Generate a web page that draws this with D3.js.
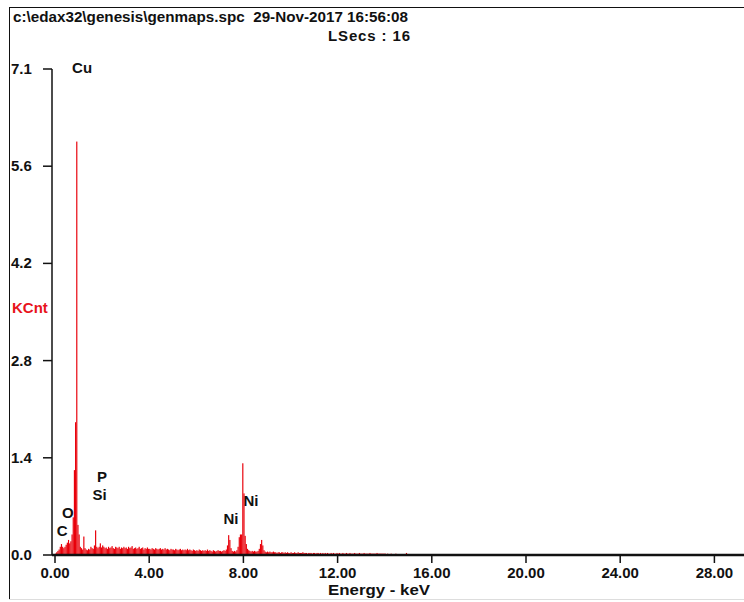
<!DOCTYPE html>
<html>
<head>
<meta charset="utf-8">
<script src="https://cdn.jsdelivr.net/npm/d3@7"></script>
<style>
  html, body { margin: 0; padding: 0; background: #fff; }
  svg { display: block; }
  text { font-family: "Liberation Sans", Arial, sans-serif; font-weight: bold; white-space: pre; }
</style>
</head>
<body>
<svg id="chart" width="744" height="602"></svg>
<script>
// Spectrum header
const fileLine = "c:\\edax32\\genesis\\genmaps.spc  29-Nov-2017 16:56:08";
const timeLine = "LSecs : 16";

// Energy channels: 0.05 keV wide, starting at 0 keV
const channelWidth = 0.05;
// Counts per channel (KCnt), one row per keV
const counts = [
  0.02,0.04,0.06,0.08,0.12,0.16,0.12,0.10,0.12,0.15,0.18,0.22,0.17,0.20,0.30,0.55,1.24,1.94,6.04,0.44,
  0.30,0.12,0.10,0.08,0.27,0.10,0.08,0.07,0.09,0.08,0.12,0.10,0.09,0.14,0.36,0.12,0.10,0.12,0.17,0.11,
  0.14,0.12,0.10,0.11,0.09,0.12,0.10,0.11,0.13,0.10,0.09,0.12,0.11,0.10,0.12,0.09,0.11,0.10,0.12,0.10,
  0.11,0.09,0.12,0.10,0.11,0.13,0.09,0.10,0.11,0.09,0.10,0.12,0.09,0.10,0.11,0.08,0.10,0.09,0.11,0.09,
  0.09,0.08,0.10,0.09,0.08,0.10,0.09,0.08,0.09,0.10,0.08,0.09,0.08,0.10,0.08,0.09,0.08,0.07,0.09,0.08,
  0.08,0.07,0.09,0.08,0.07,0.08,0.09,0.07,0.08,0.07,0.08,0.07,0.09,0.07,0.08,0.07,0.06,0.08,0.07,0.06,
  0.07,0.06,0.08,0.07,0.06,0.07,0.06,0.07,0.06,0.08,0.06,0.07,0.06,0.05,0.07,0.06,0.05,0.06,0.07,0.06,
  0.06,0.05,0.06,0.07,0.06,0.08,0.14,0.29,0.22,0.10,0.06,0.05,0.06,0.05,0.07,0.12,0.26,0.30,0.30,1.34,
  0.90,0.28,0.16,0.09,0.07,0.06,0.05,0.06,0.05,0.06,0.05,0.05,0.06,0.09,0.16,0.22,0.14,0.07,0.05,0.04,
  0.05,0.04,0.05,0.04,0.04,0.05,0.04,0.04,0.03,0.04,0.04,0.03,0.04,0.04,0.03,0.04,0.03,0.04,0.03,0.03,
  0.04,0.03,0.03,0.04,0.03,0.03,0.04,0.03,0.03,0.03,0.04,0.03,0.03,0.03,0.02,0.03,0.03,0.03,0.02,0.03,
  0.03,0.02,0.03,0.03,0.02,0.03,0.02,0.03,0.02,0.03,0.02,0.03,0.02,0.02,0.03,0.02,0.03,0.02,0.02,0.03,
  0.02,0.03,0.02,0.02,0.03,0.02,0.02,0.03,0.02,0.02,0.03,0.02,0.02,0.02,0.03,0.02,0.02,0.02,0.03,0.02,
  0.02,0.02,0.03,0.02,0.02,0.02,0.02,0.03,0.02,0.02,0.02,0.02,0.02,0.03,0.02,0.02,0.02,0.02,0.02,0.02,
  0.02,0.01,0.02,0.01,0.01,0.02,0.01,0.01,0.01,0.02,0.01,0.01,0.01,0.01,0.01,0.01,0.01,0.01,0.03,0.01
];

// Full scale and axis ticks
const fullScale = 7.1;
const yTickValues = [0, 1.42, 2.84, 4.26, 5.68, 7.1];
const yTickLabels = ["0.0", "1.4", "2.8", "4.2", "5.6", "7.1"];
const xTickValues = [0, 4, 8, 12, 16, 20, 24, 28];
const xTickLabels = ["0.00", "4.00", "8.00", "12.00", "16.00", "20.00", "24.00", "28.00"];
const xMax = 29.3;

// Element identification labels: name, energy (keV), label level (KCnt)
const elementNames    = ["Cu", "C",  "O",  "Si", "P",  "Ni", "Ni"];
const elementEnergies = [1.15, 0.30, 0.55, 1.89, 2.00, 7.47, 8.32];
const elementLevels   = [7.04, 0.28, 0.54, 0.80, 1.07, 0.45, 0.72];

const svg = d3.select("#chart");
const W = 744, H = 602;

const x = d3.scaleLinear().domain([0, xMax]).range([55, 55 + xMax * 23.55]);
const y = d3.scaleLinear().domain([0, fullScale]).range([555, 69]);

// Frame
svg.append("rect").attr("width", W).attr("height", H).attr("fill", "#fff");
svg.append("line").attr("x1", 9.5).attr("x2", 9.5).attr("y1", 7).attr("y2", 599)
  .attr("stroke", "#111").attr("stroke-width", 1);
svg.append("line").attr("x1", 9).attr("x2", W).attr("y1", 7.5).attr("y2", 7.5)
  .attr("stroke", "#111").attr("stroke-width", 1);
svg.append("line").attr("x1", 9).attr("x2", W).attr("y1", 599.5).attr("y2", 599.5)
  .attr("stroke", "#ddd").attr("stroke-width", 1);

// Header text
svg.append("text").attr("x", 13).attr("y", 22).attr("font-size", 15).attr("fill", "#111")
  .attr("textLength", 395).attr("lengthAdjust", "spacingAndGlyphs")
  .text(fileLine);
svg.append("text").attr("x", 328).attr("y", 41)
  .attr("font-size", 15).attr("fill", "#111")
  .attr("textLength", 82).attr("lengthAdjust", "spacing")
  .text(timeLine);

// Spectrum channels
const chans = counts.map((v, i) => ({ e: i * channelWidth, v }));
svg.append("g").selectAll("rect").data(chans).join("rect")
  .attr("x", d => x(d.e))
  .attr("width", d => x(d.e + channelWidth) - x(d.e))
  .attr("y", d => y(d.v))
  .attr("height", d => y(0) - y(d.v))
  .attr("fill", "#e8000a");

// Y axis
const yAxis = svg.append("g");
yAxis.append("line").attr("x1", 52).attr("x2", 52).attr("y1", y(fullScale)).attr("y2", y(0))
  .attr("stroke", "#111").attr("stroke-width", 1.5);
yAxis.selectAll("line.tick").data(yTickValues).join("line").attr("class", "tick")
  .attr("x1", 43).attr("x2", 52).attr("y1", d => y(d)).attr("y2", d => y(d))
  .attr("stroke", "#111").attr("stroke-width", 1.5);
yAxis.selectAll("text").data(yTickValues).join("text")
  .attr("x", 11).attr("y", d => y(d) + 5).attr("font-size", 15).attr("fill", "#111")
  .text((d, i) => yTickLabels[i]);
svg.append("text").attr("x", 12).attr("y", 313).attr("font-size", 15).attr("fill", "#e8141c")
  .text("KCnt");

// X axis
const xAxis = svg.append("g");
xAxis.append("line").attr("x1", 52).attr("x2", W).attr("y1", y(0)).attr("y2", y(0))
  .attr("stroke", "#111").attr("stroke-width", 2.5);
xAxis.selectAll("line.tick").data(xTickValues).join("line").attr("class", "tick")
  .attr("x1", d => x(d)).attr("x2", d => x(d)).attr("y1", y(0)).attr("y2", y(0) + 8)
  .attr("stroke", "#111").attr("stroke-width", 1.5);
xAxis.selectAll("text").data(xTickValues).join("text")
  .attr("x", d => x(d)).attr("y", 578).attr("text-anchor", "middle")
  .attr("font-size", 15).attr("fill", "#111")
  .text((d, i) => xTickLabels[i]);
svg.append("text").attr("x", 379).attr("y", 595).attr("text-anchor", "middle")
  .attr("font-size", 15).attr("fill", "#111")
  .attr("textLength", 102).attr("lengthAdjust", "spacingAndGlyphs")
  .text("Energy - keV");

// Element labels
svg.append("g").selectAll("text").data(elementNames).join("text")
  .attr("x", (d, i) => x(elementEnergies[i]))
  .attr("y", (d, i) => y(elementLevels[i]))
  .attr("text-anchor", "middle").attr("font-size", 15).attr("fill", "#111")
  .text(d => d);
</script>
</body>
</html>
